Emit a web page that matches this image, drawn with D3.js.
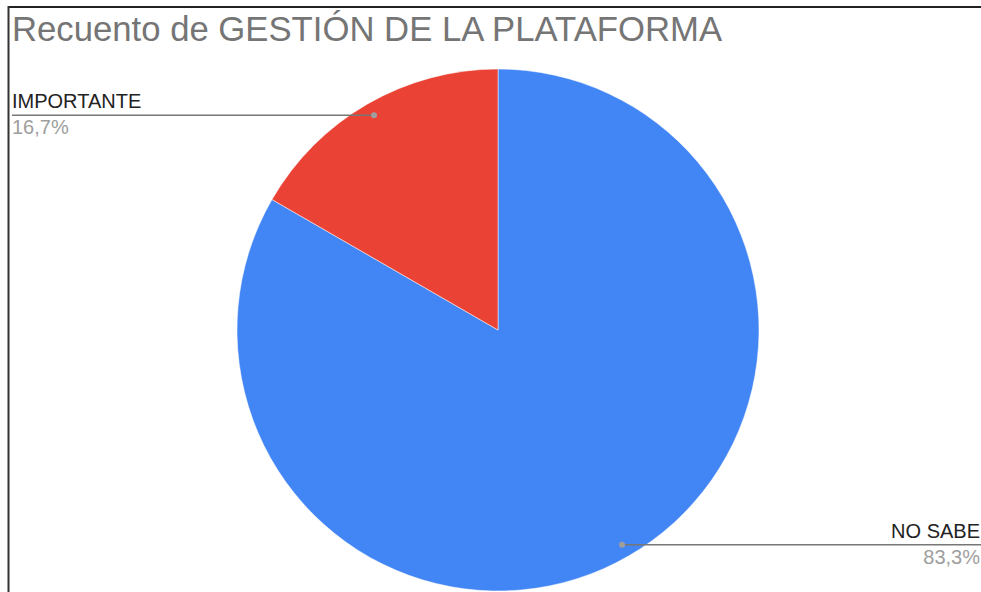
<!DOCTYPE html>
<head>
  <meta charset="utf-8">
  <style>
    body { margin: 0; background: #fff; }
    text { font-family: Arial, 'Liberation Sans', sans-serif; }
  </style>
</head>
<body>
  <script src="https://cdn.jsdelivr.net/npm/d3@7"></script>
  <script>
    // chart data
    const categories = ["NO SABE", "IMPORTANTE"];
    const counts = [5, 1];
    const labels = ["83,3%", "16,7%"];
    const colors = ["#4285f4", "#ea4335"];
    const title = "Recuento de GESTIÓN DE LA PLATAFORMA";

    const width = 981;
    const height = 592;
    const cx = 498, cy = 330, radius = 261;

    const svg = d3.select("body").append("svg")
      .attr("width", width)
      .attr("height", height);

    // frame (only top and left sides visible)
    svg.append("line").attr("x1", 8).attr("x2", width).attr("y1", 7).attr("y2", 7)
      .attr("stroke", "#222").attr("stroke-width", 2);
    svg.append("line").attr("x1", 8.5).attr("x2", 8.5).attr("y1", 6).attr("y2", height)
      .attr("stroke", "#333").attr("stroke-width", 2);

    svg.append("text")
      .attr("x", 12).attr("y", 41)
      .attr("font-size", 34.7)
      .attr("fill", "#757575")
      .text(title);

    const data = categories.map((c, i) => ({ name: c, value: counts[i], label: labels[i], color: colors[i] }));
    const pie = d3.pie().sort(null).value(d => d.value);
    const arcs = pie(data);
    const arc = d3.arc().innerRadius(0).outerRadius(radius);
    const dotArc = d3.arc().innerRadius(radius * 0.95).outerRadius(radius * 0.95);

    const g = svg.append("g").attr("transform", "translate(" + cx + "," + cy + ")");
    g.selectAll("path").data(arcs).enter().append("path")
      .attr("d", arc)
      .attr("fill", d => d.data.color)
      .attr("stroke", "#fff")
      .attr("stroke-width", 0.5);

    // leader lines and labels
    arcs.forEach(d => {
      const [px, py] = dotArc.centroid(d);
      const x = cx + px, y = cy + py;
      const leftSide = px < 0;
      const endX = leftSide ? 12 : width;
      svg.append("line")
        .attr("x1", x).attr("y1", y).attr("x2", endX).attr("y2", y)
        .attr("stroke", "#777").attr("stroke-width", 1.5);
      svg.append("circle")
        .attr("cx", x).attr("cy", y).attr("r", 3)
        .attr("fill", "#9e9e9e");
      const tx = leftSide ? 12 : width - 1;
      const anchor = leftSide ? "start" : "end";
      svg.append("text")
        .attr("x", tx).attr("y", y - 7)
        .attr("text-anchor", anchor)
        .attr("font-size", 20)
        .attr("fill", "#222")
        .text(d.data.name);
      svg.append("text")
        .attr("x", tx).attr("y", y + 19)
        .attr("text-anchor", anchor)
        .attr("font-size", 20)
        .attr("fill", "#9e9e9e")
        .text(d.data.label);
    });
  </script>
</body>
